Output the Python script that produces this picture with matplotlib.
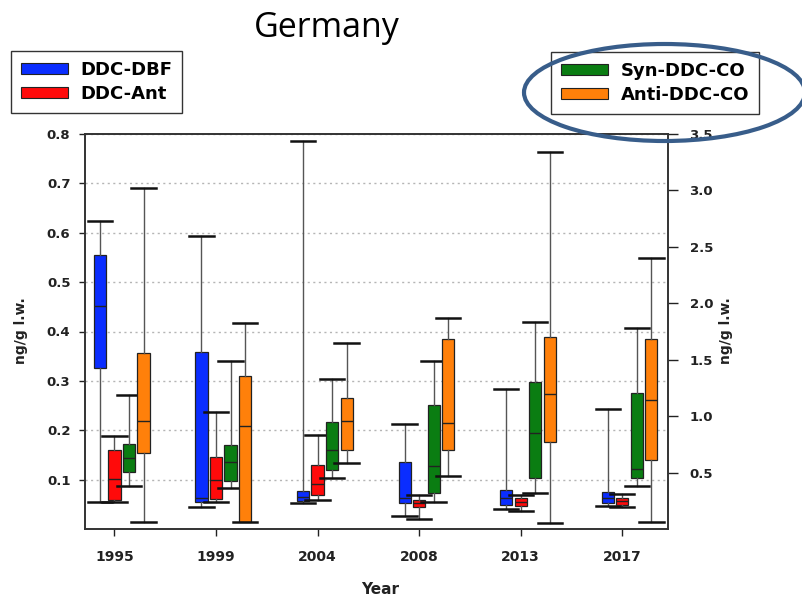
import matplotlib
matplotlib.use('Agg')
import matplotlib.pyplot as plt
import numpy as np
from matplotlib.patches import Patch, Ellipse

# --- data ---
YEARS = ['1995', '1999', '2004', '2008', '2013', '2017']

# left axis (ng/g l.w.)
dbf_low = [0.054, 0.044, 0.052, 0.026, 0.040, 0.047]
dbf_q1 = [0.327, 0.054, 0.057, 0.052, 0.049, 0.053]
dbf_med = [0.452, 0.062, 0.065, 0.062, 0.062, 0.063]
dbf_q3 = [0.555, 0.359, 0.076, 0.136, 0.078, 0.074]
dbf_high = [0.624, 0.594, 0.786, 0.213, 0.283, 0.244]

ant_low = [0.055, 0.054, 0.059, 0.020, 0.037, 0.044]
ant_q1 = [0.059, 0.060, 0.069, 0.044, 0.047, 0.049]
ant_med = [0.101, 0.099, 0.091, 0.052, 0.055, 0.057]
ant_q3 = [0.159, 0.145, 0.129, 0.059, 0.062, 0.063]
ant_high = [0.188, 0.236, 0.190, 0.069, 0.068, 0.071]

# right axis (ng/g l.w.)
syn_low = [0.381, 0.360, 0.455, 0.236, 0.316, 0.384]
syn_q1 = [0.502, 0.428, 0.523, 0.322, 0.455, 0.455]
syn_med = [0.626, 0.591, 0.700, 0.558, 0.848, 0.531]
syn_q3 = [0.753, 0.741, 0.945, 1.098, 1.305, 1.202]
syn_high = [1.187, 1.491, 1.331, 1.491, 1.831, 1.783]

anti_low = [0.059, 0.059, 0.582, 0.472, 0.050, 0.065]
anti_q1 = [0.670, 0.059, 0.700, 0.700, 0.773, 0.611]
anti_med = [0.957, 0.915, 0.957, 0.942, 1.193, 1.143]
anti_q3 = [1.556, 1.355, 1.163, 1.683, 1.703, 1.683]
anti_high = [3.023, 1.822, 1.650, 1.869, 3.337, 2.398]

BLUE = '#0a2dff'
RED = '#ff0a0a'
GREEN = '#0a7d12'
ORANGE = '#ff800a'


def make_stats(low, q1, med, q3, high):
    return [dict(whislo=a, q1=b, med=c, q3=d, whishi=e, fliers=[])
            for a, b, c, d, e in zip(low, q1, med, q3, high)]


def draw(ax, stats, pos, color):
    ax.bxp(stats, positions=pos, widths=0.12, capwidths=0.24,
           patch_artist=True, showfliers=False, manage_ticks=False,
           boxprops=dict(facecolor=color, edgecolor='#222222', linewidth=0.9),
           medianprops=dict(color='#222222', linewidth=1.0),
           whiskerprops=dict(color='#555555', linewidth=1.0),
           capprops=dict(color='#111111', linewidth=1.8))


fig = plt.figure(figsize=(8.02, 6.0), dpi=100)
ax1 = fig.add_axes([85 / 802, 1 - 529 / 600, (668 - 85) / 802, (529 - 134) / 600])
ax2 = ax1.twinx()

x = np.arange(1, len(YEARS) + 1)
step = 0.143

draw(ax1, make_stats(dbf_low, dbf_q1, dbf_med, dbf_q3, dbf_high), x - step, BLUE)
draw(ax1, make_stats(ant_low, ant_q1, ant_med, ant_q3, ant_high), x, RED)
draw(ax2, make_stats(syn_low, syn_q1, syn_med, syn_q3, syn_high), x + step, GREEN)
draw(ax2, make_stats(anti_low, anti_q1, anti_med, anti_q3, anti_high), x + 2 * step, ORANGE)

ax1.set_xlim(0.71, 6.45)
ax1.set_ylim(0, 0.8)
ax2.set_ylim(0, 3.5)

ax1.set_yticks(np.arange(1, 9) / 10)
ax1.set_yticklabels(['0.1', '0.2', '0.3', '0.4', '0.5', '0.6', '0.7', '0.8'])
ax2.set_yticks(np.arange(1, 8) / 2)
ax2.set_yticklabels(['0.5', '1.0', '1.5', '2.0', '2.5', '3.0', '3.5'])
ax1.set_xticks(x)
ax1.set_xticklabels(YEARS)

ax1.yaxis.grid(True, linestyle=(0, (1.5, 2.5)), color='#b5b5b5', linewidth=1.0)
ax1.set_axisbelow(True)

ax1.tick_params(axis='y', direction='out', length=4, width=1, pad=6.5,
                labelsize=9.5, colors='#222222')
ax1.tick_params(axis='x', direction='out', length=5, width=1, pad=10,
                labelsize=10, colors='#222222')
ax2.tick_params(axis='y', direction='out', length=7, width=1, pad=8.5,
                labelsize=9.5, colors='#222222')
for lab in ax1.get_xticklabels() + ax1.get_yticklabels() + ax2.get_yticklabels():
    lab.set_fontweight('bold')

for ax in (ax1, ax2):
    for sp in ax.spines.values():
        sp.set_color('#333333')
        sp.set_linewidth(1.2)

fig.text(21 / 802, 1 - 331 / 600, 'ng/g l.w.', rotation=90, ha='center', va='center',
         fontsize=10, fontweight='bold', color='#222222')
fig.text(726 / 802, 1 - 331 / 600, 'ng/g l.w.', rotation=90, ha='center', va='center',
         fontsize=10, fontweight='bold', color='#222222')
fig.text(380 / 802, 1 - 589 / 600, 'Year', ha='center', va='center',
         fontsize=11, fontweight='bold', color='#222222')

fig.text(326.5 / 802, 1 - 37 / 600, 'Germany', ha='center', va='baseline',
         fontsize=24.5, family='Open Sans', color='black')

leg_kw = dict(loc='upper left', bbox_transform=fig.transFigure, borderaxespad=0,
              fancybox=False, framealpha=1, edgecolor='#333333',
              prop=dict(weight='bold', size=13), handlelength=2.6,
              handleheight=0.55, handletextpad=0.7, labelspacing=0.35,
              borderpad=0.55)
leg1 = fig.legend(handles=[Patch(facecolor=BLUE, edgecolor='#222222', lw=0.8),
                           Patch(facecolor=RED, edgecolor='#222222', lw=0.8)],
                  labels=['DDC-DBF', 'DDC-Ant'],
                  bbox_to_anchor=(11 / 802, 1 - 51 / 600), **leg_kw)
leg2 = fig.legend(handles=[Patch(facecolor=GREEN, edgecolor='#222222', lw=0.8),
                           Patch(facecolor=ORANGE, edgecolor='#222222', lw=0.8)],
                  labels=['Syn-DDC-CO', 'Anti-DDC-CO'],
                  bbox_to_anchor=(551 / 802, 1 - 52 / 600), **leg_kw)
for leg in (leg1, leg2):
    leg.get_frame().set_linewidth(1.0)

# highlight ring around the right-hand legend
ring = Ellipse((664.5 / 802, 1 - 92.5 / 600), 281 / 802, 97 / 600,
               transform=fig.transFigure, fill=False, edgecolor='#385d8a',
               linewidth=3.0, zorder=10)
fig.add_artist(ring)

fig.savefig('out.png', dpi=100)
